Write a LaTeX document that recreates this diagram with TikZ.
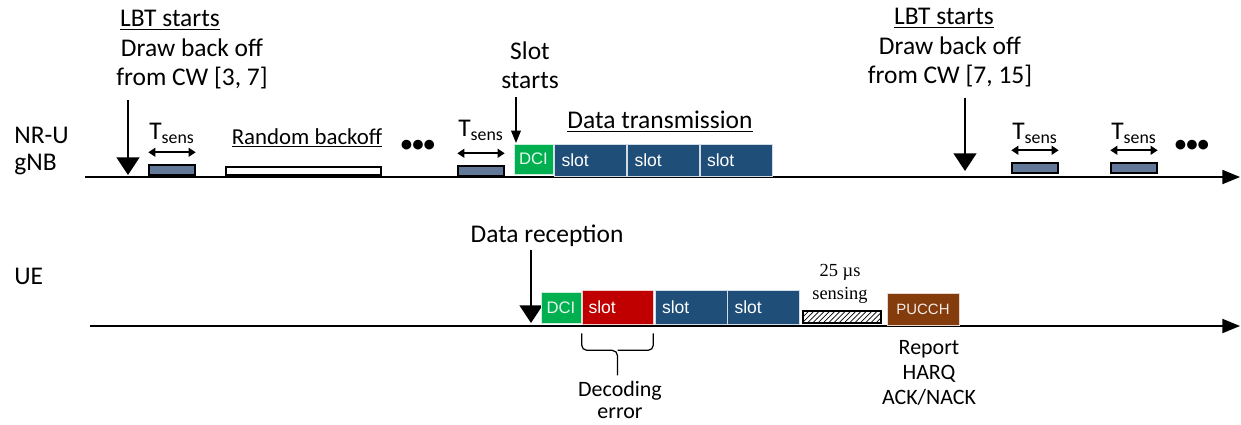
\documentclass[tikz,border=0pt]{standalone}
\usepackage{fontspec}
\setmainfont{Carlito}
\newfontfamily\boxfont{Liberation Sans}
\newfontfamily\serfont{Liberation Serif}
\usetikzlibrary{positioning,arrows.meta,patterns}
\definecolor{tsgray}{RGB}{97,120,152}
\definecolor{slotblue}{RGB}{31,78,121}
\definecolor{dcigreen}{RGB}{0,176,80}
\definecolor{errred}{RGB}{192,0,0}
\definecolor{pucchbrown}{RGB}{132,60,12}

\begin{document}
\begin{tikzpicture}[x=0.02cm,y=-0.02cm, every node/.style={font=\fontsize{14.5}{16.5}\selectfont, inner sep=0pt},
    tsbox/.style={draw, fill=tsgray, minimum width=0.92cm, minimum height=0.2cm, line width=0.8pt},
    slotbox/.style={fill=slotblue, draw=white!80!slotblue, minimum width=1.44cm, minimum height=0.64cm, text width=1.16cm, align=left, text=white, font=\boxfont\fontsize{10}{11}\selectfont},
    dcibox/.style={fill=dcigreen, draw=white!80!dcigreen, minimum width=0.78cm, minimum height=0.6cm, text=white!90!dcigreen, font=\boxfont\fontsize{9.5}{10}\selectfont},
    timeline/.style={-{Triangle[length=10pt,width=8pt]}, line width=0.9pt},
    bigdown/.style={-{Triangle[length=10pt,width=13pt]}, line width=0.7pt},
    smalldown/.style={-{Triangle[length=7pt,width=5.5pt]}, line width=0.7pt},
    dbl/.style={{Triangle[length=4pt,width=5pt]}-{Triangle[length=4pt,width=5pt]}, line width=1pt},
    dots/.style={font=\fontsize{13}{13}\selectfont\bfseries}]
  \useasboundingbox (0,0) rectangle (1241,424);

  % row names
  \node[anchor=west] (nru) at (14,135) {NR-U};
  \node[anchor=west] (gnb) at (14,165) {gNB};
  \node[anchor=west] (ue) at (14,276) {UE};

  % time axes
  \coordinate (gstart) at (85,177);
  \coordinate (gend) at (1240,177);
  \coordinate (ustart) at (90,326);
  \coordinate (uend) at (1240,326);
  \draw[timeline] (gstart) -- (gend);
  \draw[timeline] (ustart) -- (uend);

  % first LBT
  \node (lbtA) at (170,20) {\underline{LBT starts}};
  \node[align=center] (cwA) at (192,64) {Draw back off\\from CW [3, 7]};
  \coordinate (lbtAtop) at (128,100);
  \coordinate (lbtAtip) at (128,175);
  \draw[bigdown] (lbtAtop) -- (lbtAtip);

  % sensing periods
  \foreach \n/\x/\y/\ly in {1/172/170/133, 2/481/171/130, 3/1035/168/133, 4/1134/168/133}{
    \node[tsbox] (ts\n) at (\x,\y) {};
    \node (tsl\n) at (\x,\ly) {T\textsubscript{sens}};
    \draw[dbl] ([yshift=0.24cm]ts\n.north west) -- ([yshift=0.24cm]ts\n.north east);
  }

  \node[font=\fontsize{13}{15}\selectfont] (rblbl) at (307,138) {\underline{Random backoff}};
  \node[draw, fill=white, minimum width=3.1cm, minimum height=0.16cm, line width=0.8pt] (rb) at (303.5,171) {};
  \node[dots] (dotsA) at (418,146) {\textbullet\textbullet\textbullet};

  % data transmission
  \node[align=center] (slotst) at (530,65) {Slot\\starts};
  \coordinate (slotsttop) at (516,97);
  \coordinate (slotsttip) at (516,143);
  \draw[smalldown] (slotsttop) -- (slotsttip);
  \node[dcibox] (dciA) at (533.5,159) {DCI};
  \node[slotbox] (sA1) at (590.5,160) {slot};
  \node[slotbox] (sA2) at (663.5,160) {slot};
  \node[slotbox] (sA3) at (736,160) {slot};
  \node (dtx) at (660,122) {\underline{Data transmission}};

  % second LBT
  \node (lbtB) at (944,18) {\underline{LBT starts}};
  \node[align=center] (cwB) at (950,62) {Draw back off\\from CW [7, 15]};
  \coordinate (lbtBtop) at (965,98);
  \coordinate (lbtBtip) at (965,171);
  \draw[bigdown] (lbtBtop) -- (lbtBtip);
  \node[dots] (dotsB) at (1192,146) {\textbullet\textbullet\textbullet};

  % UE side
  \node (drx) at (547,236) {Data reception};
  \coordinate (drxtop) at (531,250);
  \coordinate (drxtip) at (531,323);
  \draw[bigdown] (drxtop) -- (drxtip);
  \node[dcibox, minimum width=0.8cm, minimum height=0.62cm] (dciB) at (561,307.5) {DCI};
  \node[slotbox, fill=errred, draw=white!80!errred, minimum width=1.42cm, minimum height=0.68cm] (sB1) at (617.5,307) {slot};
  \node[slotbox, minimum height=0.68cm] (sB2) at (691,307) {slot};
  \node[slotbox, minimum height=0.68cm] (sB3) at (763.5,307) {slot};
  \node[draw, pattern=north east lines, minimum width=1.56cm, minimum height=0.24cm, line width=0.8pt] (sense) at (842,317) {};
  \node[align=center, font=\serfont\fontsize{10.5}{13}\selectfont] (senselbl) at (840,284) {25 µs\\sensing};
  \node[fill=pucchbrown, draw=white!80!pucchbrown, minimum width=1.44cm, minimum height=0.64cm, text=white!90!pucchbrown, font=\boxfont\fontsize{8.5}{9}\selectfont] (pucch) at (923,309) {PUCCH};

  % decoding error brace
  \draw[line width=0.7pt, rounded corners=3pt] ([yshift=-0.18cm]sB1.south west) |- ([yshift=-0.52cm]sB1.south) -- ([yshift=-1.02cm]sB1.south);
  \draw[line width=0.7pt, rounded corners=3pt] ([yshift=-0.18cm]sB1.south east) |- ([yshift=-0.52cm]sB1.south);
  \node[align=center, font=\fontsize{12.5}{13}\selectfont] (decerr) at (620,400) {Decoding\\error};

  \node[align=center, font=\fontsize{12.5}{14}\selectfont] (report) at (929,373) {Report\\HARQ\\ACK/NACK};
\end{tikzpicture}
\end{document}
